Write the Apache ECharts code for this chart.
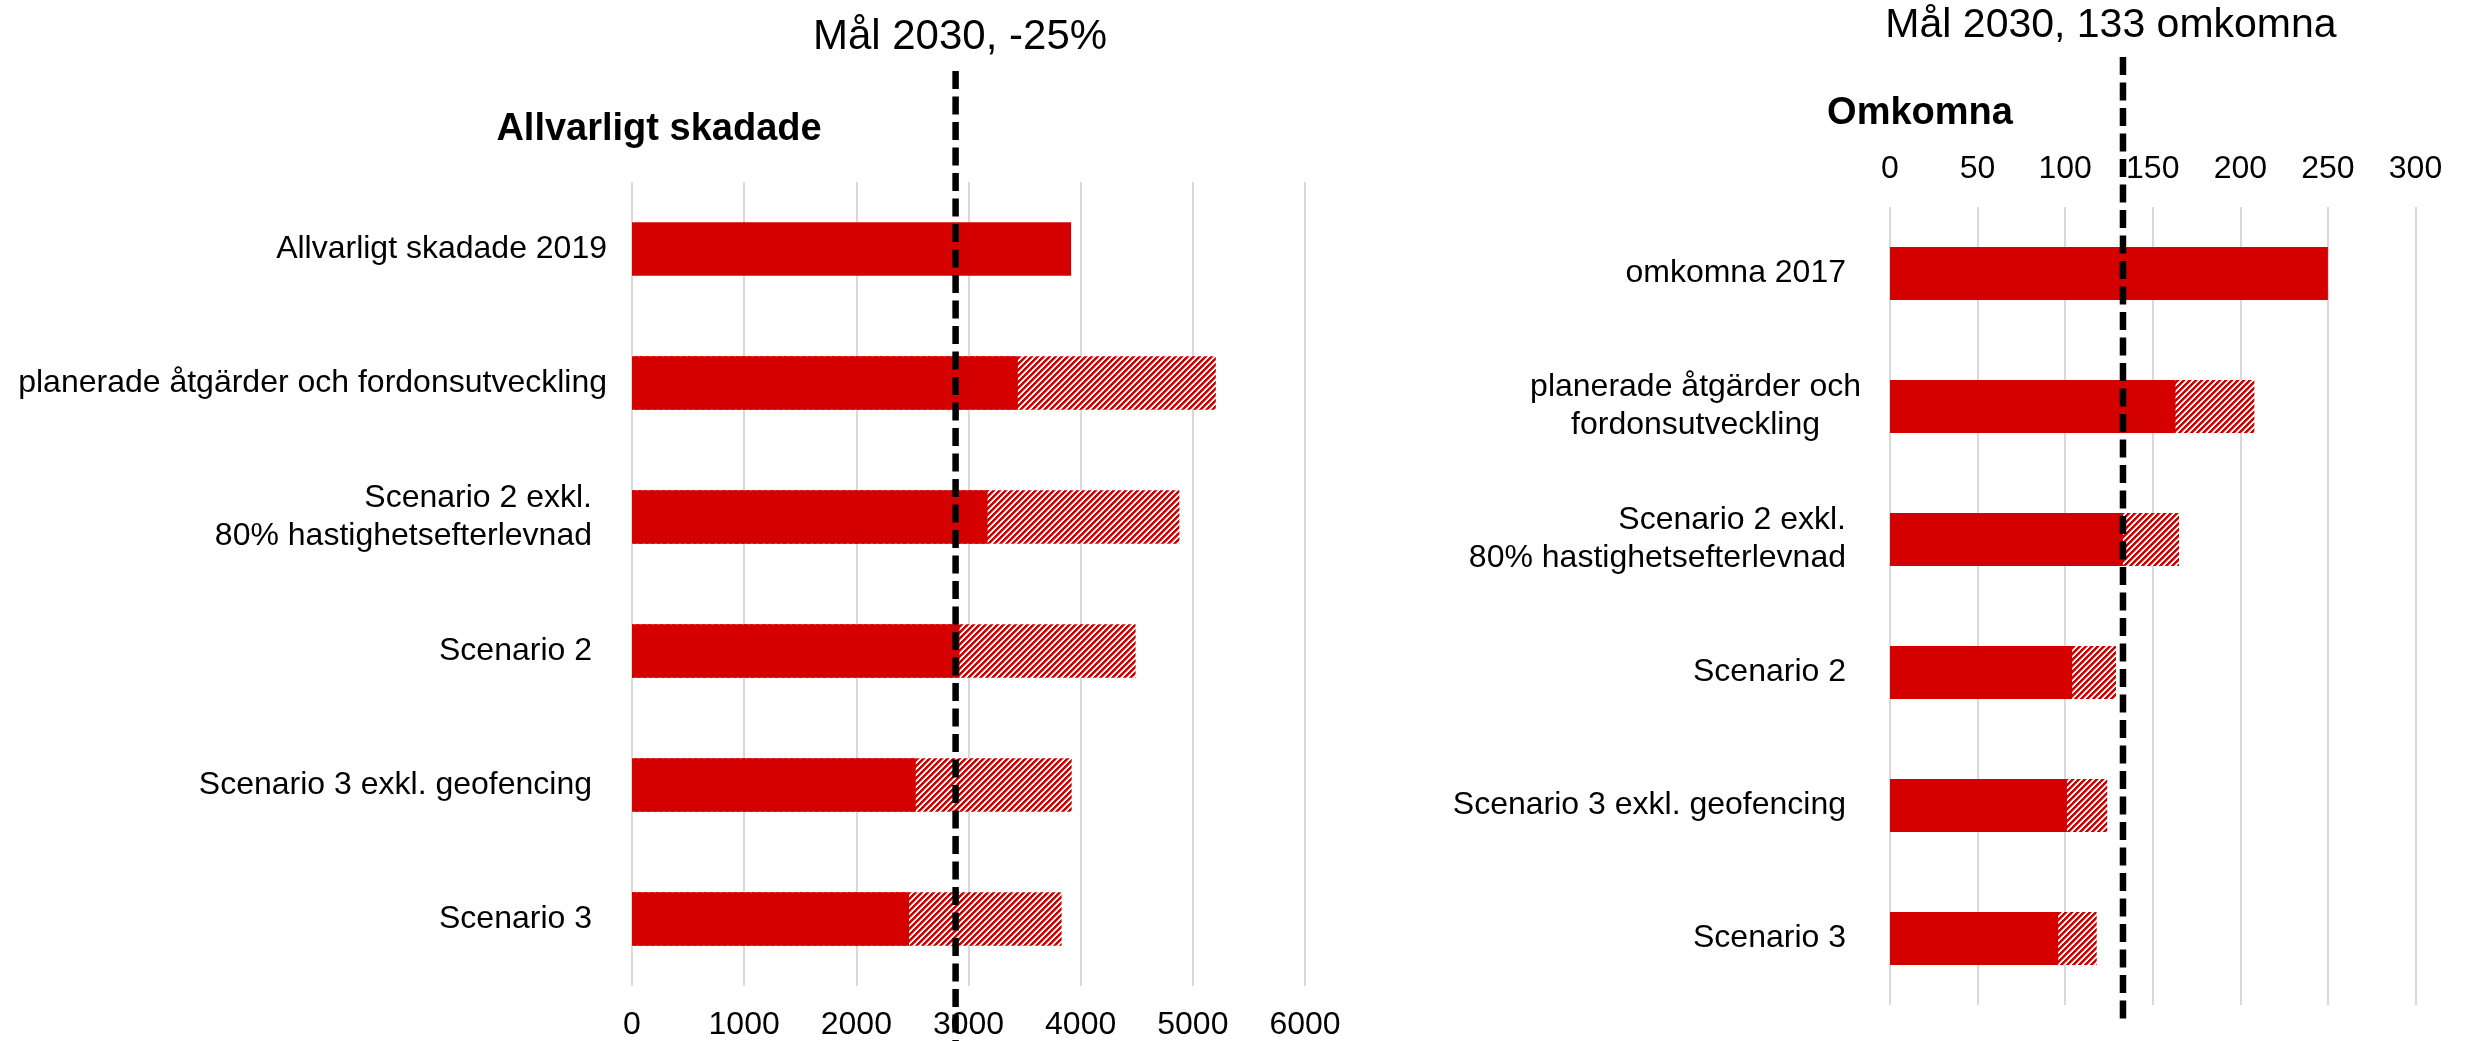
<!DOCTYPE html>
<html>
<head>
<meta charset="utf-8">
<script src="https://cdn.jsdelivr.net/npm/echarts@6/dist/echarts.min.js"></script>
<style>
  html, body { margin: 0; padding: 0; background: #ffffff; }
  #chart { width: 2466px; height: 1041px; }
</style>
</head>
<body>
<div id="chart"></div>
<script>
// ---- Allvarligt skadade (seriously injured) ----
const injuredCategories = [
  'Allvarligt skadade 2019',
  'planerade åtgärder och fordonsutveckling',
  'Scenario 2 exkl.\n80% hastighetsefterlevnad',
  'Scenario 2',
  'Scenario 3 exkl. geofencing',
  'Scenario 3'
];
const injuredBase  = [3915, 3440, 3170, 2920, 2530, 2470];   // solid part
const injuredUpper = [null, 5205, 4880, 4490, 3920, 3830];   // end of hatched range
const injuredAxis  = [0, 6000, 1000];                         // min, max, step
const injuredTarget = 2885;

// ---- Omkomna (fatalities) ----
const deathCategories = [
  'omkomna 2017',
  'planerade åtgärder och\nfordonsutveckling',
  'Scenario 2 exkl.\n80% hastighetsefterlevnad',
  'Scenario 2',
  'Scenario 3 exkl. geofencing',
  'Scenario 3'
];
const deathBase  = [250, 163, 133, 104, 101, 96];
const deathUpper = [null, 208, 165, 129, 124, 118];
const deathAxis  = [0, 300, 50];
const deathTarget = 133;

const RED = '#D40000';
const FONT = '"Liberation Sans", Arial, Helvetica, sans-serif';

// diagonal red/white hatch ("/" direction)
function makeHatch() {
  const n = 12, period = 6;
  const c = document.createElement('canvas');
  c.width = n; c.height = n;
  const ctx = c.getContext('2d');
  const img = ctx.createImageData(n, n);
  for (let y = 0; y < n; y++) {
    for (let x = 0; x < n; x++) {
      const k = (x + y) % period;
      const a = k < 3 ? 1 : (k === 3 ? 0.5 : 0);
      const i = (y * n + x) * 4;
      img.data[i]     = Math.round(255 * (1 - a) + 212 * a);
      img.data[i + 1] = Math.round(255 * (1 - a));
      img.data[i + 2] = Math.round(255 * (1 - a));
      img.data[i + 3] = 255;
    }
  }
  ctx.putImageData(img, 0, 0);
  return c;
}
const hatch = { image: makeHatch(), repeat: 'repeat' };

// labels drawn flush against the axis gap; the others keep a small right inset
const flushLabels = new Set([
  'Allvarligt skadade 2019',
  'planerade åtgärder och fordonsutveckling',
  'planerade åtgärder och\nfordonsutveckling'
]);
const centeredLabels = new Set(['planerade åtgärder och\nfordonsutveckling']);

const labelBase = { fontSize: 32, fontFamily: FONT, color: '#000', lineHeight: 38 };
const richStyles = {
  f: Object.assign({ align: 'right' }, labelBase),
  p: Object.assign({ align: 'right', padding: [0, 15, 0, 0] }, labelBase),
  c: Object.assign({ align: 'center' }, labelBase)
};
function catFormatter(v) {
  const key = centeredLabels.has(v) ? 'c' : (flushLabels.has(v) ? 'f' : 'p');
  return v.split('\n').map(l => '{' + key + '|' + l + '}').join('\n');
}

function valueAxis(idx, axisDef, position, margin) {
  return {
    type: 'value', gridIndex: idx, position: position,
    min: axisDef[0], max: axisDef[1], interval: axisDef[2],
    axisLine: { show: false }, axisTick: { show: false },
    splitLine: { show: true, lineStyle: { color: '#d9d9d9', width: 2 } },
    axisLabel: { fontSize: 32, fontFamily: FONT, color: '#000', margin: margin,
      formatter: v => String(v) }
  };
}
function catAxis(idx, cats, margin) {
  return {
    type: 'category', gridIndex: idx, data: cats, inverse: true,
    axisLine: { show: false }, axisTick: { show: false }, splitLine: { show: false },
    axisLabel: { margin: margin, formatter: catFormatter, rich: richStyles, align: 'right' }
  };
}
function barPair(idx, base, upper) {
  return [
    { type: 'bar', xAxisIndex: idx, yAxisIndex: idx, data: upper, barWidth: '40%',
      barGap: '-100%', itemStyle: { color: hatch }, silent: true },
    { type: 'bar', xAxisIndex: idx, yAxisIndex: idx, data: base, barWidth: '40%',
      barGap: '-100%', itemStyle: { color: RED }, silent: true }
  ];
}

const chart = echarts.init(document.getElementById('chart'), null, { renderer: 'canvas' });
chart.setOption({
  animation: false,
  backgroundColor: '#ffffff',
  grid: [
    { left: 632, top: 182, width: 673, height: 806, containLabel: false },
    { left: 1890, top: 207, width: 525.5, height: 798, containLabel: false }
  ],
  xAxis: [
    valueAxis(0, injuredAxis, 'bottom', 23),
    valueAxis(1, deathAxis, 'top', 22)
  ],
  yAxis: [
    catAxis(0, injuredCategories, 25),
    catAxis(1, deathCategories, 29)
  ],
  series: [].concat(barPair(0, injuredBase, injuredUpper), barPair(1, deathBase, deathUpper))
});

// target lines and headings
const xInj = chart.convertToPixel({ xAxisIndex: 0 }, injuredTarget);
const xDeath = chart.convertToPixel({ xAxisIndex: 1 }, deathTarget);
const dashStyle = { stroke: '#000', lineWidth: 6.5, lineDash: [18, 7.5] };
function heading(text, x, y, size, weight) {
  return { type: 'text', x: x, y: y, z: 100,
    style: { text: text, align: 'center', verticalAlign: 'middle',
      font: weight + ' ' + size + 'px ' + FONT, fill: '#000' } };
}
chart.setOption({
  graphic: [
    { type: 'line', z: 90, shape: { x1: xInj, y1: 71, x2: xInj, y2: 1041 }, style: dashStyle },
    { type: 'line', z: 90, shape: { x1: xDeath, y1: 57, x2: xDeath, y2: 1020 }, style: dashStyle },
    heading('Mål 2030, -25%', 960, 37, 42, 'normal'),
    heading('Mål 2030, 133 omkomna', 2111, 26, 41, 'normal'),
    heading('Allvarligt skadade', 659, 130, 38, 'bold'),
    heading('Omkomna', 1920, 114, 38, 'bold')
  ]
});
</script>
</body>
</html>
